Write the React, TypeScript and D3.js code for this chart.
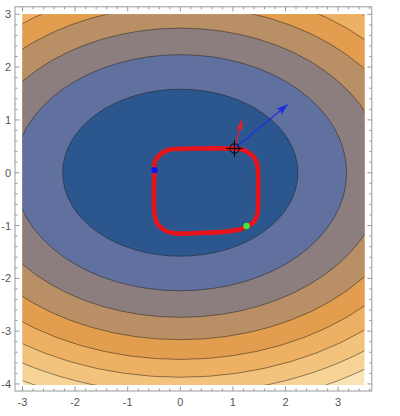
import * as d3 from 'd3'

// contour plot of  f(x, y) = wx * x^2 + wy * y^2
const fieldWeights = [1, 2]
const levels = [5, 10, 15, 20, 25, 30, 35, 40]
const bandColors = ['#2b568e', '#60709f', '#8c7e7e', '#b98f66', '#e29e4e', '#eeb062', '#f3c27c', '#f7d396', '#fae4b6']

const xTicks = [-3, -2, -1, 0, 1, 2, 3]
const yTicks = [-4, -3, -2, -1, 0, 1, 2, 3]

// closed red path
const loopX = [-0.49, -0.49, -0.45, -0.35, -0.23, -0.07, 0.38, 0.81, 1.03, 1.17, 1.3, 1.4, 1.46, 1.48, 1.48, 1.48, 1.47, 1.42, 1.34, 1.26, 1.14, 0.82, 0.38, -0.07, -0.23, -0.35, -0.45, -0.49, -0.5, -0.5]
const loopY = [0.05, 0.18, 0.27, 0.37, 0.43, 0.45, 0.46, 0.46, 0.46, 0.44, 0.38, 0.29, 0.17, 0.01, -0.33, -0.61, -0.77, -0.9, -0.98, -1.02, -1.07, -1.12, -1.14, -1.15, -1.12, -1.05, -0.94, -0.78, -0.52, -0.23]

const startPoint = [-0.49, 0.05]
const endPoint = [1.26, -1.01]
const probePoint = [1.03, 0.46]
const gradientTip = [2.05, 1.3]
const stepTip = [1.18, 1.02]

const W = 400
const H = 416

export default function App() {
  const x = d3.scaleLinear().domain([-3, 3.5]).range([22.5, 364.4])
  const y = d3.scaleLinear().domain([-4.02, 3]).range([385, 14.3])
  const frame = { x0: 15, x1: 371.8, y0: 6.8, y1: 391 }

  const minorX = d3.range(-31, 37).map((i) => i / 10).filter((v) => Math.round(v * 10) % 2 === 0 && x(v) >= frame.x0 && x(v) <= frame.x1)
  const minorY = d3.range(-42, 33).map((i) => i / 10).filter((v) => Math.round(v * 10) % 2 === 0 && y(v) <= frame.y1 && y(v) >= frame.y0)

  const loop = loopX.map((v, i) => [v, loopY[i]] as [number, number])
  const line = d3.line<[number, number]>().x((d) => x(d[0])).y((d) => y(d[1])).curve(d3.curveCatmullRomClosed)

  const tickColor = '#999'
  const labelStyle = { fontFamily: 'Liberation Sans, Arial, sans-serif', fontSize: '11px', fill: '#555' }

  const arrowHead = (from: number[], to: number[], len: number, half: number, color: string) => {
    const x0 = x(from[0]), y0 = y(from[1]), x1 = x(to[0]), y1 = y(to[1])
    const a = Math.atan2(y1 - y0, x1 - x0)
    const bx = x1 - len * Math.cos(a), by = y1 - len * Math.sin(a)
    const nx = -Math.sin(a) * half, ny = Math.cos(a) * half
    const mx = x1 - len * 0.8 * Math.cos(a), my = y1 - len * 0.8 * Math.sin(a)
    return (
      <g>
        <line x1={x0} y1={y0} x2={mx} y2={my} stroke={color} strokeWidth={1.2} />
        <path d={`M${x1},${y1}L${bx + nx},${by + ny}L${mx},${my}L${bx - nx},${by - ny}Z`} fill={color} />
      </g>
    )
  }

  const cx = x(0)
  const cy = y(0)

  return (
    <div style={{ position: 'absolute', left: 0, top: 0 }}>
      <svg width={W} height={H} style={{ display: 'block', background: '#fff' }}>
        <defs>
          <clipPath id="plot">
            <rect x={x(-3)} y={y(3)} width={x(3.5) - x(-3)} height={y(-4.02) - y(3)} />
          </clipPath>
        </defs>

        <g clipPath="url(#plot)">
          <rect x={x(-3)} y={y(3)} width={x(3.5) - x(-3)} height={y(-4.02) - y(3)} fill={bandColors[levels.length]} />
          {levels.slice().reverse().map((L, i) => (
            <ellipse
              key={L}
              cx={cx}
              cy={cy}
              rx={x(Math.sqrt(L / fieldWeights[0])) - cx}
              ry={cy - y(Math.sqrt(L / fieldWeights[1]))}
              fill={bandColors[levels.length - 1 - i]}
              stroke="rgba(30,25,20,0.6)"
              strokeWidth={0.8}
            />
          ))}
        </g>

        <path d={line(loop) ?? ''} fill="none" stroke="#e8141c" strokeWidth={4.6} />

        {arrowHead(probePoint, gradientTip, 12, 3.8, '#1f2fe0')}
        {arrowHead(probePoint, stepTip, 12, 3, '#ee1c24')}

        <circle cx={x(startPoint[0])} cy={y(startPoint[1])} r={3.2} fill="#1414f0" />
        <circle cx={x(endPoint[0])} cy={y(endPoint[1])} r={3.2} fill="#3dec3d" />

        <g stroke="#000" strokeWidth={1} fill="none">
          <circle cx={x(probePoint[0])} cy={y(probePoint[1])} r={4.7} />
          <line x1={x(probePoint[0]) - 8.3} x2={x(probePoint[0]) + 8.3} y1={y(probePoint[1])} y2={y(probePoint[1])} />
          <line x1={x(probePoint[0])} x2={x(probePoint[0])} y1={y(probePoint[1]) - 8.3} y2={y(probePoint[1]) + 8.3} />
        </g>

        {/* frame and ticks */}
        <rect x={frame.x0} y={frame.y0} width={frame.x1 - frame.x0} height={frame.y1 - frame.y0} fill="none" stroke={tickColor} strokeWidth={1} />
        <g stroke={tickColor} strokeWidth={1}>
          {minorX.map((v) => {
            const major = Math.abs(v - Math.round(v)) < 1e-6
            const len = major ? 4.5 : 2.5
            return (
              <g key={`x${v}`}>
                <line x1={x(v)} x2={x(v)} y1={frame.y1} y2={frame.y1 - len} />
                <line x1={x(v)} x2={x(v)} y1={frame.y0} y2={frame.y0 + len} />
              </g>
            )
          })}
          {minorY.map((v) => {
            const major = Math.abs(v - Math.round(v)) < 1e-6
            const len = major ? 4.5 : 2.5
            return (
              <g key={`y${v}`}>
                <line x1={frame.x0} x2={frame.x0 + len} y1={y(v)} y2={y(v)} />
                <line x1={frame.x1} x2={frame.x1 - len} y1={y(v)} y2={y(v)} />
              </g>
            )
          })}
        </g>
        {xTicks.map((v) => (
          <text key={`xl${v}`} x={x(v)} y={406} textAnchor="middle" style={labelStyle}>{v}</text>
        ))}
        {yTicks.map((v) => (
          <text key={`yl${v}`} x={11} y={y(v) + 4} textAnchor="end" style={labelStyle}>{v}</text>
        ))}
      </svg>
    </div>
  )
}
